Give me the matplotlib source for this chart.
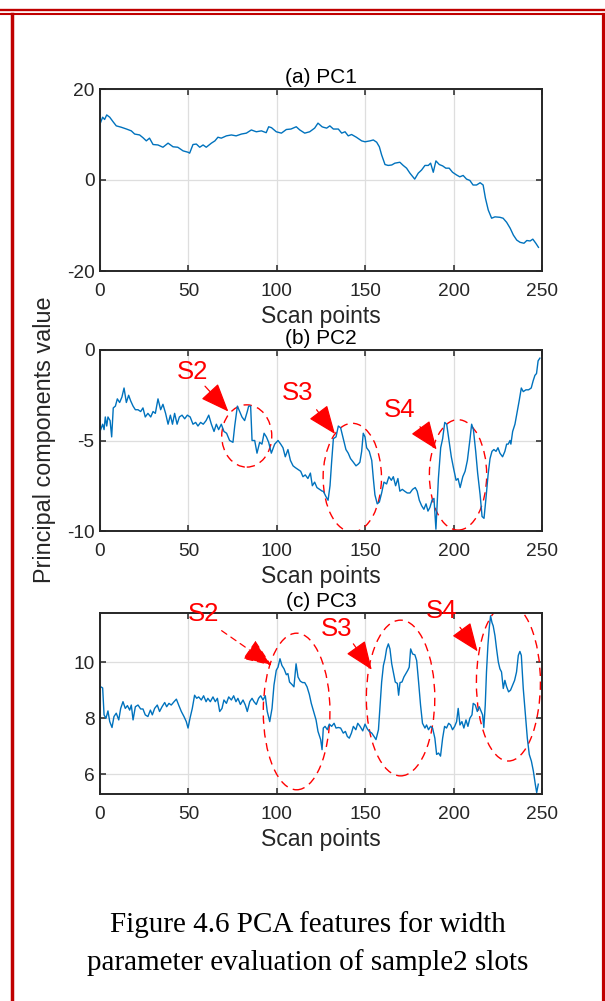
import numpy as np
import matplotlib
matplotlib.use("Agg")
import matplotlib.pyplot as plt
from matplotlib.lines import Line2D
from matplotlib.patches import Ellipse

plt.rcParams['font.family'] = ['Liberation Sans', 'DejaVu Sans']
plt.rcParams['axes.unicode_minus'] = False

# ---- data (scan point, value) ----
pc1_x = [0.4, 1.5, 2.6, 3.8, 5.5, 7.4, 9.2, 12, 15, 17.7, 19.6, 22.4, 24.3, 26.2, 28, 30,
         32.8, 35.6, 38.5, 41.3, 44, 47, 49.8, 50.7, 52.6, 54.5, 56.4, 58.3, 60.1, 63, 65,
         66.7, 68.6, 71.5, 74.3, 77, 80, 82.8, 85.6, 88.4, 91.3, 94, 95.4, 97, 99.7, 102.6,
         105.4, 108, 111, 113, 115.8, 118.6, 121.4, 123.3, 125.6, 126.3, 128.2, 130, 132,
         134.8, 136.7, 138.6, 140.4, 142.3, 145, 148, 149.9, 152.7, 154.6, 156.5, 158, 159.3,
         161.2, 163, 165, 166.8, 169.6, 171.5, 173.4, 175.3, 178, 180, 181.9, 183.8, 185.7,
         187, 188.5, 190, 191.9, 193.8, 195.6, 197.5, 199.4, 201.7, 203.5, 205.4, 207.3,
         209.2, 211, 213, 215, 216.7, 218, 219.6, 221.5, 223.4, 226.2, 228, 230, 232, 233.8,
         235.7, 237.6, 239.8, 241.4, 243.3, 244.8, 246.5, 248]
pc1_y = [12.7, 13.8, 13.3, 14.3, 13.8, 12.8, 11.9, 11.6, 11.2, 10.8, 10.1, 9.9, 9.3, 8.6, 9.2, 7.8,
         7.7, 7.2, 8.1, 7.3, 7.2, 6.4, 6.1, 5.9, 7.8, 7.9, 7.2, 7.7, 7.2, 8.1, 8.6,
         9.4, 9.2, 9.7, 9.9, 9.7, 10.1, 10.3, 11.0, 10.6, 10.8, 10.4, 11.7, 11.5, 10.6, 10.3,
         11.1, 11.2, 11.7, 11.0, 10.3, 10.6, 11.4, 12.5, 11.7, 11.6, 11.4, 11.9, 11.2,
         11.2, 10.3, 10.6, 9.7, 10.0, 9.4, 8.6, 8.4, 8.6, 8.8, 8.3, 7.3, 5.5,
         3.4, 3.2, 3.3, 3.7, 3.9, 3.2, 2.6, 1.5, 0.2, 1.5, 2.2, 3.2, 3.2,
         3.7, 1.7, 4.2, 3.4, 3.1, 2.6, 2.6, 1.7, 1.1, 0.7, 1.0, 0.2,
         -0.1, -1.1, -1.1, -0.6, -1.1, -4.0, -6.6, -8.4, -8.1, -8.2, -8.4, -9.3, -10.6, -12.1,
         -13.2, -13.7, -13.9, -13.3, -13.4, -13.0, -13.9, -14.8]

pc2_x = [0.4, 1.5, 2.3, 3, 3.8, 4.5, 5.7, 6.6, 7.5, 8.7, 9.8, 11.1, 12.4, 13.6, 14.9, 16.2,
         17.3, 18.7, 20, 21.5, 23, 24.3, 25.6, 27.1, 28.7, 30, 31.3, 32.8, 34.3, 35.6, 37.1,
         38.5, 39.8, 41, 42.2, 43.6, 44.9, 46.4, 47.9, 49.4, 51, 52.6, 54.1, 55.4, 56.9, 58.4,
         60, 61.5, 63, 64.5, 65.8, 67.1, 68.6, 70.1, 71.6, 73.3, 75.2, 76.2, 77.7, 79, 80.3,
         81.8, 83.3, 84.1, 85.2, 86, 87.5, 88.8, 90.3, 91.6, 92.8, 94.1, 95.4, 96.9, 98.8,
         100.7, 102.2, 103.5, 104.8, 106.3, 107.7, 109.2, 110.5, 112, 113.5, 114.8, 116.1,
         117.6, 119, 120.1, 121.4, 122.7, 124.2, 125.7, 126.3, 127.8, 129, 130.1, 131, 132,
         133.5, 134.8, 136.1, 137.6, 139.1, 140.4, 141.7, 143.3, 144.8, 146.1, 147, 148,
         148.9, 149.9, 150.8, 152.3, 153.7, 154.6, 155.5, 156.8, 158, 159.3, 160.6, 162.1,
         163.4, 164.8, 165.9, 167.2, 168.5, 169.6, 171, 172.3, 173.8, 175.3, 176.8, 178.3,
         179.4, 180.6, 181.9, 183.2, 184.4, 185.5, 186.6, 187.8, 188.9, 190, 191.4, 192.7,
         193.8, 195, 196.1, 197.4, 198.7, 199.9, 201.4, 202.5, 203.7, 205.2, 206.5, 207.8,
         209.3, 210.2, 211.2, 212.5, 213.6, 215, 216.1, 217.2, 218.3, 219.5, 220.6, 221.7,
         222.8, 224, 225.1, 226.2, 227.7, 229, 230, 230.9, 231.9, 232.4, 233.4, 234.7, 236,
         237.1, 238.3, 239.4, 240.9, 242.4, 243.9, 245, 246, 246.9, 247.8, 248.8]
pc2_y = [-4.4, -4.1, -4.4, -3.7, -4.2, -3.7, -3.9, -4.8, -3.2, -3.1, -2.7, -2.9, -2.6, -2.1, -2.9, -2.5,
         -2.8, -3.1, -3.3, -3.3, -3.4, -3.2, -3.7, -3.5, -3.7, -3.4, -3.5, -2.7, -3.3, -3.0, -3.5,
         -4.1, -3.6, -4.1, -3.5, -4.1, -3.7, -3.6, -3.8, -3.6, -3.7, -4.1, -4.0, -4.2, -4.0, -4.1,
         -3.9, -3.6, -4.1, -4.5, -4.1, -4.4, -4.1, -4.5, -4.6, -5.0, -5.1, -4.2, -3.1, -3.4, -3.7,
         -3.9, -3.4, -3.1, -3.1, -5.0, -5.0, -5.7, -5.1, -5.2, -4.6, -4.8, -5.1, -5.7, -5.2,
         -5.0, -5.2, -5.4, -5.9, -5.5, -6.1, -6.4, -6.5, -6.6, -6.7, -7.0, -6.9,
         -7.1, -6.8, -7.5, -7.3, -7.6, -7.7, -7.8, -7.8, -8.1, -8.3, -7.5, -6.2, -4.9,
         -4.8, -4.2, -4.3, -4.9, -5.5, -5.7, -6.0, -6.2, -6.4, -6.3, -6.2, -5.6,
         -4.6, -4.8, -5.4, -5.6, -6.1, -7.1, -8.0, -8.5, -8.4, -7.9, -7.3, -7.4,
         -7.0, -7.2, -7.0, -7.5, -7.1, -7.8, -7.7, -7.8, -7.9, -7.9, -7.7, -7.6,
         -7.8, -8.3, -8.6, -8.8, -8.5, -8.9, -8.7, -8.3, -8.2, -9.9, -7.1, -5.4,
         -4.9, -4.0, -4.1, -5.0, -5.9, -6.5, -7.2, -7.1, -7.6, -7.0, -6.7, -6.1,
         -4.9, -4.1, -4.4, -5.6, -6.8, -8.0, -9.2, -9.3, -8.2, -6.9, -6.0, -5.6,
         -5.5, -5.6, -5.4, -5.7, -5.9, -5.6, -5.2, -5.2, -5.0, -5.2, -4.5, -4.1, -3.4,
         -2.8, -2.1, -2.3, -2.2, -2.2, -2.1, -1.7, -1.4, -1.3, -0.6, -0.45]

pc3_x = [0.4, 1.5, 2.3, 3.4, 4.5, 5.5, 6.8, 7.9, 9.2, 10.6, 11.7, 13, 14.3, 15.5, 16.8, 17.7,
         18.7, 20, 21.5, 23, 24.3, 25.6, 27.1, 28.5, 29.6, 30.9, 32.4, 33.7, 35.1, 36.6, 37.7,
         39, 40.3, 41.9, 43.2, 44.5, 46, 47.5, 48.8, 49.8, 50.9, 52.2, 53.5, 54.7, 55.8, 57.3,
         58.6, 60, 61, 62.4, 63.9, 65.2, 66.4, 67.7, 69, 70.1, 71.5, 72.8, 74.3, 75.6, 76.9,
         78, 79.4, 80.9, 82.2, 83.3, 84.7, 86, 87.1, 88.4, 89.7, 90.9, 92.2, 93.5, 94.6, 96,
         97.3, 98.4, 99.7, 100.7, 101.8, 102.9, 104.1, 105.4, 106.3, 107.2, 108.6, 109.7,
         110.9, 112, 113.3, 114.6, 115.8, 117.1, 118.4, 119.5, 120.8, 122.2, 123.3, 124.8,
         125.6, 126.3, 127.3, 128.6, 129.7, 131, 132.4, 133.5, 134.8, 136.1, 137.6, 138.8,
         139.9, 141, 142.2, 143.3, 144.7, 145.8, 147.1, 148.6, 149.9, 151.2, 152.3, 153.7,
         155, 156.1, 157.5, 158.4, 159.3, 160.3, 161.2, 162.1, 163.1, 164, 165, 165.9, 167,
         168.2, 168.9, 169.7, 170.8, 171.9, 173, 174.1, 174.9, 175.7, 176.8, 178.1, 179.1,
         180.2, 181.3, 182.4, 183.8, 184.7, 185.8, 187, 188.1, 189.4, 190.4, 191.5, 192.6,
         193.8, 194.9, 196, 197.2, 198.3, 199.4, 200.6, 201.7, 202.6, 203.6, 204.7, 205.8,
         207, 208.1, 209.2, 210.4, 211.1, 212.3, 213.4, 214.5, 215.6, 216.4, 217.1, 217.9,
         218.6, 219.4, 220.2, 220.9, 221.7, 222.4, 223.4, 224.3, 225.3, 226.2, 227.1, 228.1,
         229, 230, 231.1, 232.2, 233.4, 234.5, 235.6, 236.6, 237.5, 238.3, 239.4, 240.6,
         241.7, 242.8, 244, 245.1, 246.2, 247, 247.9]
pc3_y = [9.12, 9.08, 8.12, 8.0, 8.26, 7.88, 7.67, 8.06, 8.18, 7.94, 8.35, 8.59, 8.35, 8.45, 8.29, 8.47,
         7.94, 8.41, 8.47, 8.33, 8.33, 8.12, 8.06, 8.29, 8.12, 8.35, 8.47, 8.24, 8.41, 8.56, 8.41,
         8.53, 8.47, 8.59, 8.68, 8.47, 8.24, 8.06, 7.88, 7.65, 8.0, 8.35, 8.82, 8.71, 8.76, 8.65,
         8.8, 8.59, 8.71, 8.59, 8.76, 8.59, 8.71, 8.24, 8.35, 8.65, 8.53, 8.76, 8.65, 8.8, 8.59,
         8.71, 8.49, 8.65, 8.47, 8.24, 8.59, 8.71, 8.59, 8.49, 8.71, 8.8, 8.65, 8.8, 8.24, 7.88,
         8.35, 9.18, 9.71, 9.82, 10.12, 9.88, 9.76, 9.55, 9.59, 9.29, 9.2, 9.12,
         9.94, 9.47, 9.32, 9.27, 9.27, 9.12, 8.85, 8.53, 8.24, 7.94, 7.53, 7.24,
         6.88, 7.65, 7.71, 7.59, 7.79, 7.71, 7.82, 7.65, 7.67, 7.65, 7.47, 7.53,
         7.35, 7.29, 7.47, 7.71, 7.59, 7.82, 7.71, 7.55, 7.79, 7.62, 7.53, 7.47,
         7.35, 7.24, 7.59, 8.47, 9.29, 9.88, 10.12, 10.47, 10.65, 10.47, 9.94, 9.65, 9.29,
         9.24, 8.82, 9.27, 9.29, 9.47, 9.59, 9.71, 9.82, 10.47, 10.29, 10.26, 10.06,
         9.29, 8.47, 7.82, 7.65, 7.76, 7.59, 7.71, 7.65, 7.29, 6.71, 6.76, 6.65,
         7.29, 7.71, 7.65, 7.82, 7.76, 7.59, 7.71, 7.88, 8.35, 7.76, 7.88, 7.65,
         7.94, 7.71, 8.0, 8.12, 8.53, 8.47, 8.24, 8.41, 8.24, 8.12, 7.67, 8.47,
         9.65, 10.59, 11.24, 11.65, 11.41, 11.29, 10.94, 10.47, 10.0, 9.76, 9.65, 9.06,
         9.35, 9.12, 8.94, 9.0, 9.18, 9.35, 9.65, 10.24, 10.38, 10.24, 9.06, 8.12,
         7.29, 6.71, 6.47, 6.12, 5.65, 5.35, 5.65]

titles = ['(a) PC1', '(b) PC2', '(c) PC3']
xticks = [0, 50, 100, 150, 200, 250]
yticks = [[-20, 0, 20], [-10, -5, 0], [6, 8, 10]]
ylims = [(-20, 20), (-10, 0), (5.3, 11.75)]

# annotations: label, text (x, y), arrow tail, arrow tip, ellipse centre, width, height
pc2_marks = [
    ('S2', (52.4, -1.2), (59.4, -2.0), (72.6, -3.4), (83, -4.75), 28.3, 3.44, '-'),
    ('S3', (112, -2.4), (122.5, -3.3), (132.9, -4.64), (142.7, -7.05), 33, 6.0, '-'),
    ('S4', (169.7, -3.3), (181, -4.24), (190.4, -5.5), (202.5, -6.9), 32.4, 6.1, '-'),
]
pc3_marks = [
    ('S2', (58.4, 11.7), (68.8, 11.12), (97.1, 9.88), (111.2, 8.24), 37.7, 5.58, 'dash'),
    ('S3', (133.9, 11.18), (143.3, 10.65), (153.7, 9.73), (170, 8.72), 38.7, 5.55, '-'),
    ('S4', (193.2, 11.82), (203.6, 11.24), (213.6, 10.38), (231, 9.27), 36.2, 5.59, '-'),
]

LINE = '#0072BD'
DARK = '#262626'
RED = '#FF0000'

fig = plt.figure(figsize=(6.05, 10.01), dpi=100)
W, H = 605, 1001
tops = [89, 350, 613]
bots = [271, 531, 794]
xs = [pc1_x, pc2_x, pc3_x]
ys = [pc1_y, pc2_y, pc3_y]
axes = []
for i in range(3):
    ax = fig.add_axes([100 / W, 1 - bots[i] / H, 442 / W, (bots[i] - tops[i]) / H])
    ax.plot(xs[i], ys[i], color=LINE, lw=1.0)
    ax.set_xlim(0, 250)
    ax.set_ylim(*ylims[i])
    ax.set_xticks(xticks)
    ax.set_yticks(yticks[i])
    ax.grid(True, color='#dedede', lw=0.9)
    ax.set_axisbelow(True)
    ax.tick_params(direction='in', length=4, width=1.1, top=True, right=True,
                   labelsize=13.8, colors=DARK)
    ax.tick_params(axis='x', pad=8.5)
    ax.tick_params(axis='y', pad=4)
    for s in ax.spines.values():
        s.set_linewidth(1.4)
        s.set_color(DARK)
    ax.set_title(titles[i], fontsize=15, color='black', pad=4.5)
    ax.set_xlabel('Scan points', fontsize=16.5, color=DARK, labelpad=4)
    axes.append(ax)


def mark(ax, items):
    for lab, tpos, tail, tip, cen, ew, eh, style in items:
        ax.text(tpos[0], tpos[1], lab, color=RED, fontsize=18.5, ha='center', va='center',
                clip_on=False)
        ls = (0, (5, 4)) if style == 'dash' else '-'
        ax.annotate('', xy=tip, xytext=tail,
                    arrowprops=dict(arrowstyle='-|>,head_length=1.0,head_width=0.4',
                                    mutation_scale=18, color=RED, lw=0.9, ls=ls,
                                    shrinkA=0, shrinkB=0))
        ax.add_patch(Ellipse(cen, ew, eh, fill=False, ec=RED, lw=1.0,
                             ls=(0, (6, 4))))


mark(axes[1], pc2_marks)
mark(axes[2], pc3_marks)

fig.text(45 / W, 1 - 440 / H, 'Principal components value', rotation=90,
         ha='center', va='center', fontsize=16.8, color=DARK)

# caption
fig.text(308 / W, 1 - 925 / H, 'Figure 4.6 PCA features for width', ha='center',
         va='center', fontsize=21, family='Liberation Serif')
fig.text(308 / W, 1 - 963 / H, 'parameter evaluation of sample2 slots', ha='center',
         va='center', fontsize=21, family='Liberation Serif')

# page border
BORDER = '#C00000'
fig.add_artist(Line2D([0, 1], [1 - 10.4 / H] * 2, transform=fig.transFigure,
                      color=BORDER, lw=1.7))
fig.add_artist(Line2D([0, 1], [1 - 13.7 / H] * 2, transform=fig.transFigure,
                      color=BORDER, lw=1.5))
fig.add_artist(Line2D([12 / W] * 2, [0, 1 - 13.7 / H], transform=fig.transFigure,
                      color=BORDER, lw=2.5))
fig.add_artist(Line2D([603 / W] * 2, [0, 1 - 13.7 / H], transform=fig.transFigure,
                      color=BORDER, lw=2.3))

fig.savefig('out.png', dpi=100, facecolor='white')
